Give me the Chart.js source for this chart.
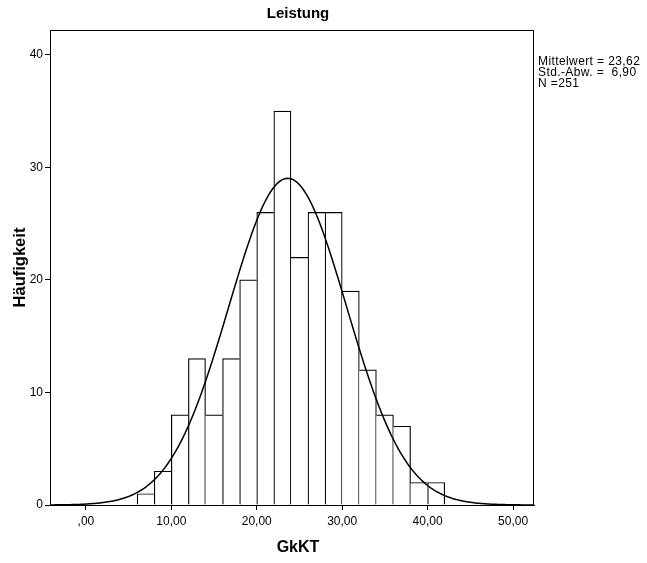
<!DOCTYPE html>
<html>
<head>
<meta charset="utf-8">
<script src="https://cdn.jsdelivr.net/npm/chart.js@4.4.0/dist/chart.umd.min.js"></script>
<style>
    html, body { margin: 0; padding: 0; background: #fff; }
    #wrap { width: 647px; height: 563px; }
</style>
</head>
<body>
<div id="wrap"><canvas id="histChart" width="647" height="563"></canvas></div>
<script>
// Klassen (Untergrenze, Breite 2) und Häufigkeiten
const binStarts = [6, 8, 10, 12, 14, 16, 18, 20, 22, 24, 26, 28, 30, 32, 34, 36, 38, 40];
const counts = [1, 3, 8, 13, 8, 13, 20, 26, 35, 22, 26, 26, 19, 12, 8, 7, 2, 2];
const binWidth = 2;

// Kennwerte der Verteilung
const mittelwert = 23.62;
const stdAbw = 6.90;
const nFaelle = 251;

// Achsenbeschriftungen
const xTicks = [0, 10, 20, 30, 40, 50];
const yTicks = [0, 10, 20, 30, 40];

const xMin = -4.2, xMax = 52.45;
const yMax = 42.2;
const fontFamily = "'Liberation Sans', Arial, sans-serif";

const fmt = v => {
    const s = v.toFixed(2).replace('.', ',');
    return s.startsWith('0,') ? s.slice(1) : s;
};

// Balken in der Klassenmitte
const barData = binStarts.map((b, i) => ({ x: b + binWidth / 2, y: counts[i] }));

// Normalverteilungskurve aus Mittelwert, Std.-Abw. und N
const normalCurve = [];
for (let x = xMin; x <= xMax + 0.001; x += 0.2) {
    const z = (x - mittelwert) / stdAbw;
    const y = nFaelle * binWidth / (stdAbw * Math.sqrt(2 * Math.PI)) * Math.exp(-0.5 * z * z);
    normalCurve.push({ x: x, y: y });
}

// Kanten zwischen Nachbarbalken nur einmal zeichnen (vom höheren Balken)
const last = counts.length - 1;
const barBorders = counts.map((c, i) => ({
    top: 1.2,
    bottom: 0,
    left: (i === 0 || counts[i - 1] <= c) ? 1.2 : 0,
    right: (i === last || c > counts[i + 1]) ? 1.2 : 0
}));

// Rahmen, Titel, x-Achsentitel und Kennwerte
const framePlugin = {
    id: 'frame',
    afterDraw(chart) {
        const { ctx, chartArea: a } = chart;
        ctx.save();
        ctx.strokeStyle = '#000';
        ctx.lineWidth = 1;
        ctx.strokeRect(a.left + 0.5, a.top + 0.5, a.right - a.left - 1, a.bottom - a.top);

        ctx.fillStyle = '#000';
        ctx.textAlign = 'center';
        ctx.textBaseline = 'middle';
        const mid = (a.left + a.right) / 2 + 6;
        ctx.font = 'bold 15px ' + fontFamily;
        ctx.fillText('Leistung', mid, 14);
        ctx.font = 'bold 16px ' + fontFamily;
        ctx.fillText('GkKT', mid, 548);

        ctx.font = '12px ' + fontFamily;
        ctx.letterSpacing = '0.4px';
        ctx.textAlign = 'left';
        const lines = [
            'Mittelwert = ' + fmt(mittelwert),
            'Std.-Abw. =  ' + fmt(stdAbw),
            'N =' + nFaelle
        ];
        lines.forEach((t, i) => ctx.fillText(t, a.right + 4, 62 + i * 10.8));
        ctx.restore();
    }
};

new Chart(document.getElementById('histChart').getContext('2d'), {
    type: 'bar',
    data: {
        datasets: [
            {
                type: 'line',
                data: normalCurve,
                borderColor: '#000',
                borderWidth: 1.5,
                pointRadius: 0,
                tension: 0,
                fill: false,
                order: 0
            },
            {
                type: 'bar',
                data: barData,
                backgroundColor: '#fff',
                borderColor: '#000',
                borderWidth: barBorders,
                borderSkipped: false,
                barPercentage: 1,
                categoryPercentage: 1,
                order: 1
            }
        ]
    },
    options: {
        responsive: false,
        animation: false,
        devicePixelRatio: 1,
        layout: { padding: { left: 0, right: 113, top: 30, bottom: 0 } },
        plugins: {
            legend: { display: false },
            tooltip: { enabled: false },
            title: { display: false }
        },
        scales: {
            x: {
                type: 'linear',
                min: xMin,
                max: xMax,
                offset: false,
                afterBuildTicks: s => { s.ticks = xTicks.map(v => ({ value: v })); },
                afterFit: s => { s.height = 58; },
                grid: { offset: false, drawOnChartArea: false, drawTicks: true, tickLength: 5, color: '#000' },
                border: { display: true, color: '#000', width: 1 },
                ticks: {
                    color: '#000',
                    padding: 4,
                    maxRotation: 0,
                    font: { family: fontFamily, size: 12 },
                    callback: v => fmt(v)
                }
            },
            y: {
                min: 0,
                max: yMax,
                afterBuildTicks: s => { s.ticks = yTicks.map(v => ({ value: v })); },
                afterFit: s => { s.width = 50; },
                grid: { drawOnChartArea: false, drawTicks: true, tickLength: 5, color: '#000' },
                border: { display: true, color: '#000', width: 1 },
                ticks: {
                    color: '#000',
                    padding: 2,
                    font: { family: fontFamily, size: 12 }
                },
                title: {
                    display: true,
                    text: 'Häufigkeit',
                    color: '#000',
                    font: { family: fontFamily, size: 16.5, weight: 'bold' },
                    padding: { top: 11, bottom: 0 }
                }
            }
        }
    },
    plugins: [framePlugin]
});
</script>
</body>
</html>
